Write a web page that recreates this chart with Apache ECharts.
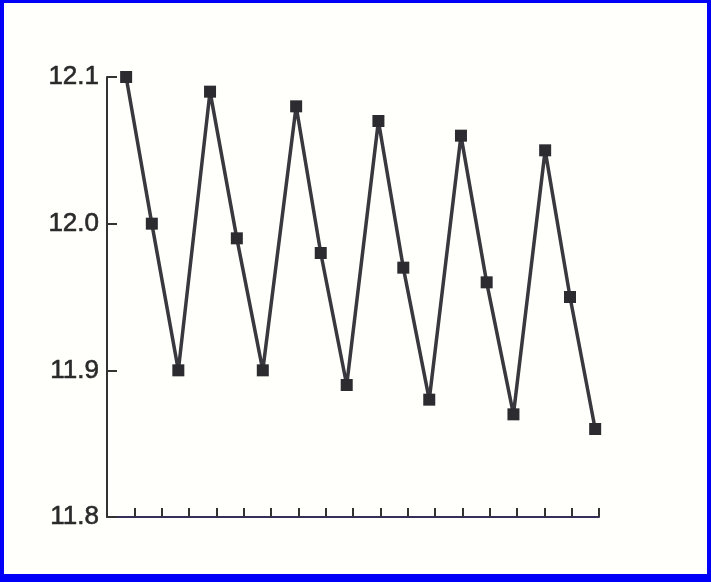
<!DOCTYPE html>
<html><head><meta charset="utf-8">
<script src="https://cdn.jsdelivr.net/npm/echarts@6/dist/echarts.min.js"></script>
<style>
html,body{margin:0;padding:0;background:#fff;}
#frame{position:absolute;left:0;top:0;width:711px;height:582px;box-sizing:border-box;border-style:solid;border-color:#0000f8;border-width:3px 4px 8px 4px;background:#fffffb;}
#chart{position:absolute;left:0;top:0;width:711px;height:582px;}
</style></head>
<body>
<div id="frame"></div>
<div id="chart"></div>
<script>
// x positions in tick units (axis runs 0..18, one tick per unit)
var xPositions = [0.70,1.64,2.61,3.77,4.75,5.70,6.92,7.82,8.77,9.93,10.84,11.79,12.95,13.89,14.87,16.03,16.94,17.86];
var values = [12.10,12.00,11.90,12.09,11.99,11.90,12.08,11.98,11.89,12.07,11.97,11.88,12.06,11.96,11.87,12.05,11.95,11.86];
var yTicks = [11.8, 11.9, 12.0, 12.1];

var chart = echarts.init(document.getElementById('chart'), null, {renderer:'canvas'});
chart.setOption({
  backgroundColor: 'transparent',
  animation: false,
  grid: {left:107, top:77, right:112, bottom:65, containLabel:false},
  xAxis: {
    type:'value', min:0, max:18, interval:1,
    axisLine:{show:true, lineStyle:{color:'#35305a', width:2}},
    axisTick:{show:true, inside:true, length:9, lineStyle:{color:'#333', width:2}},
    axisLabel:{show:false},
    splitLine:{show:false}
  },
  yAxis: {
    type:'value', min:yTicks[0], max:yTicks[yTicks.length-1], interval:0.1,
    axisLine:{show:true, onZero:false, lineStyle:{color:'#333', width:2}},
    axisTick:{show:true, inside:true, length:10, lineStyle:{color:'#333', width:2}},
    axisLabel:{show:true, margin:8, fontFamily:'Liberation Sans, Arial, sans-serif', fontSize:26, color:'#2a2a2a',
      textBorderColor:'#2a2a2a', textBorderWidth:0.6,
      formatter:function(v){ return v.toFixed(1); }},
    splitLine:{show:false}
  },
  series: [{
    type:'line',
    data: xPositions.map(function(x, i){ return [x, values[i]]; }),
    symbol:'rect', symbolSize:12,
    itemStyle:{color:'#2b2b30'},
    lineStyle:{color:'#38383e', width:3.5},
    z:3
  }]
});
</script>
</body></html>
